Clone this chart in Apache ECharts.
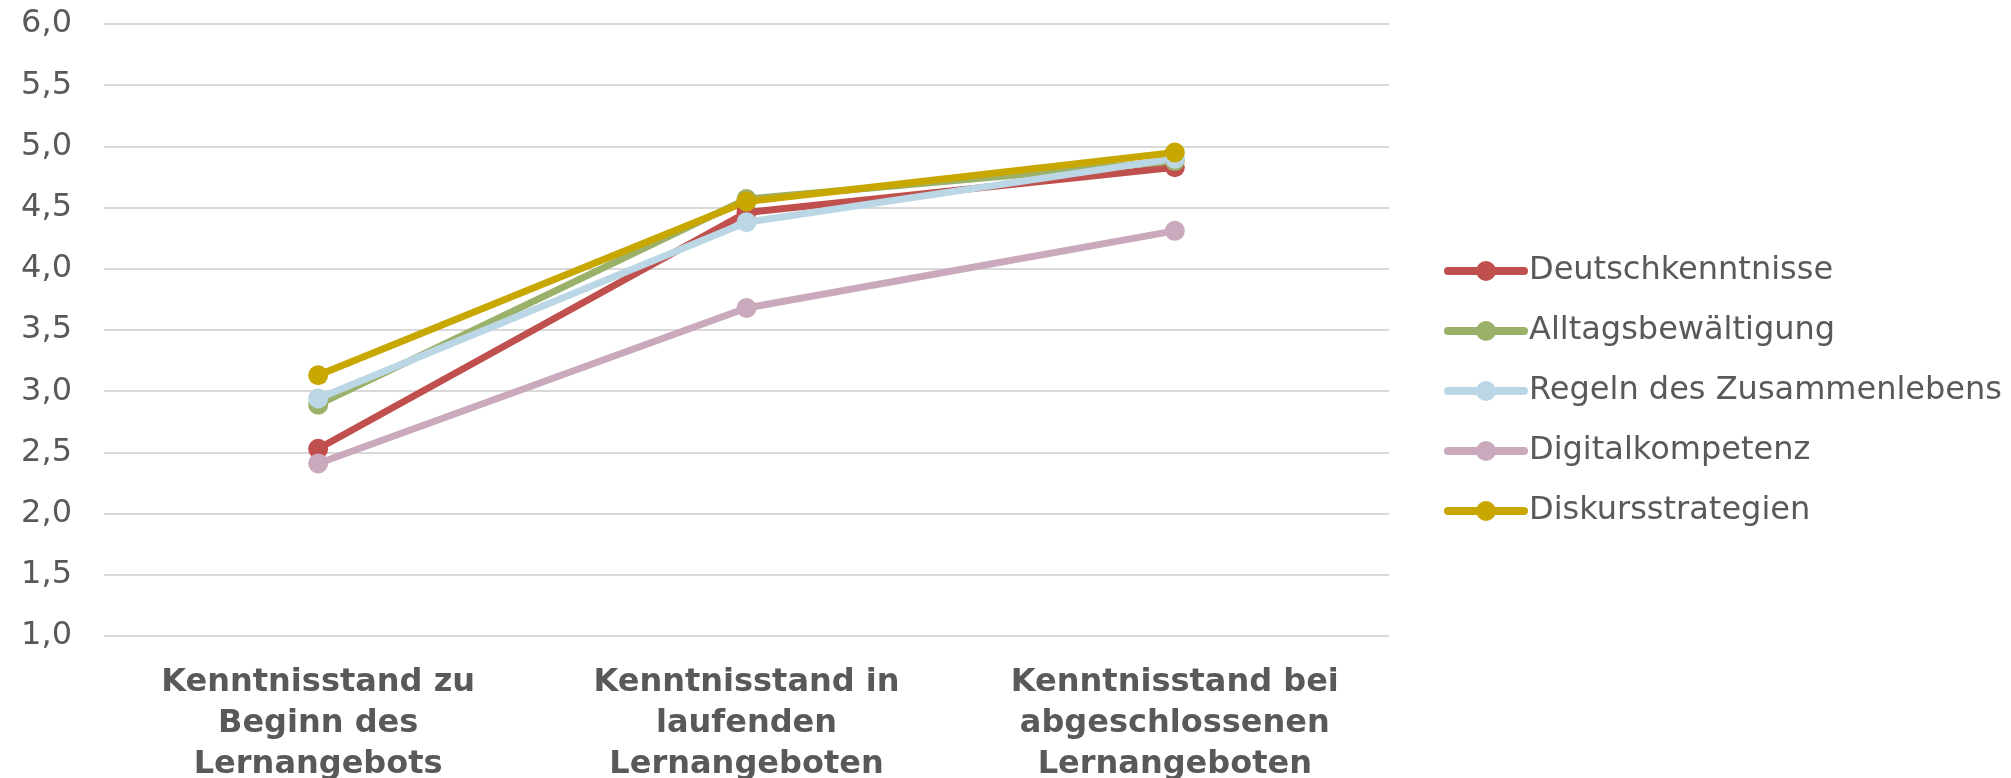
<!DOCTYPE html>
<html>
<head>
<meta charset="utf-8">
<script src="https://cdn.jsdelivr.net/npm/echarts@6/dist/echarts.min.js"></script>
<style>
  html, body { margin: 0; padding: 0; background: #fff; }
  #chart { width: 2011px; height: 778px; }
</style>
</head>
<body>
<div id="chart"></div>
<script>
var categories = [
    'Kenntnisstand zu\nBeginn des\nLernangebots',
    'Kenntnisstand in\nlaufenden\nLernangeboten',
    'Kenntnisstand bei\nabgeschlossenen\nLernangeboten'
];
var yTicks = [1.0, 1.5, 2.0, 2.5, 3.0, 3.5, 4.0, 4.5, 5.0, 5.5, 6.0];

var deutsch = [2.53, 4.46, 4.83];
var alltag = [2.89, 4.57, 4.88];
var regeln = [2.94, 4.38, 4.90];
var digital = [2.41, 3.68, 4.31];
var diskurs = [3.13, 4.55, 4.95];

var seriesNames = ['Deutschkenntnisse', 'Alltagsbewältigung', 'Regeln des Zusammenlebens', 'Digitalkompetenz', 'Diskursstrategien'];
var seriesData = [deutsch, alltag, regeln, digital, diskurs];
var seriesColors = ['#C0504D', '#9BB068', '#BBD7E6', '#CAA9BC', '#C8A800'];

var font = 'DejaVu Sans, Verdana, sans-serif';

var chart = echarts.init(document.getElementById('chart'));

var series = [];
for (var i = 0; i < seriesNames.length; i++) {
    series.push({
        name: seriesNames[i],
        type: 'line',
        data: seriesData[i],
        symbol: 'circle',
        symbolSize: 20,
        lineStyle: { width: 7, color: seriesColors[i] },
        itemStyle: { color: seriesColors[i] },
        emphasis: { disabled: true },
        animation: false
    });
}

chart.setOption({
    animation: false,
    grid: { left: 104, right: 622, top: 24, bottom: 142, outerBoundsMode: 'none', containLabel: false },
    legend: {
        orient: 'vertical',
        left: 1444,
        top: 253,
        padding: 0,
        itemWidth: 76,
        itemHeight: 25,
        itemGap: 24,
        data: seriesNames,
        lineStyle: { width: 8, cap: 'round' },
        textStyle: { fontFamily: font, fontSize: 32, color: '#595959', lineHeight: 36 }
    },
    xAxis: {
        type: 'category',
        data: categories,
        boundaryGap: true,
        axisLine: { show: false },
        axisTick: { show: false },
        axisLabel: {
            margin: 26,
            interval: 0,
            fontFamily: font,
            fontWeight: 'bold',
            fontSize: 32,
            lineHeight: 41,
            color: '#595959'
        }
    },
    yAxis: {
        type: 'value',
        min: yTicks[0],
        max: yTicks[yTicks.length - 1],
        interval: 0.5,
        axisLine: { show: false },
        axisTick: { show: false },
        splitLine: { lineStyle: { color: '#D9D9D9', width: 2 } },
        axisLabel: {
            margin: 32,
            fontFamily: font,
            fontSize: 32,
            color: '#595959',
            formatter: function (v) { return v.toFixed(1).replace('.', ','); }
        }
    },
    series: series
});
</script>
</body>
</html>
